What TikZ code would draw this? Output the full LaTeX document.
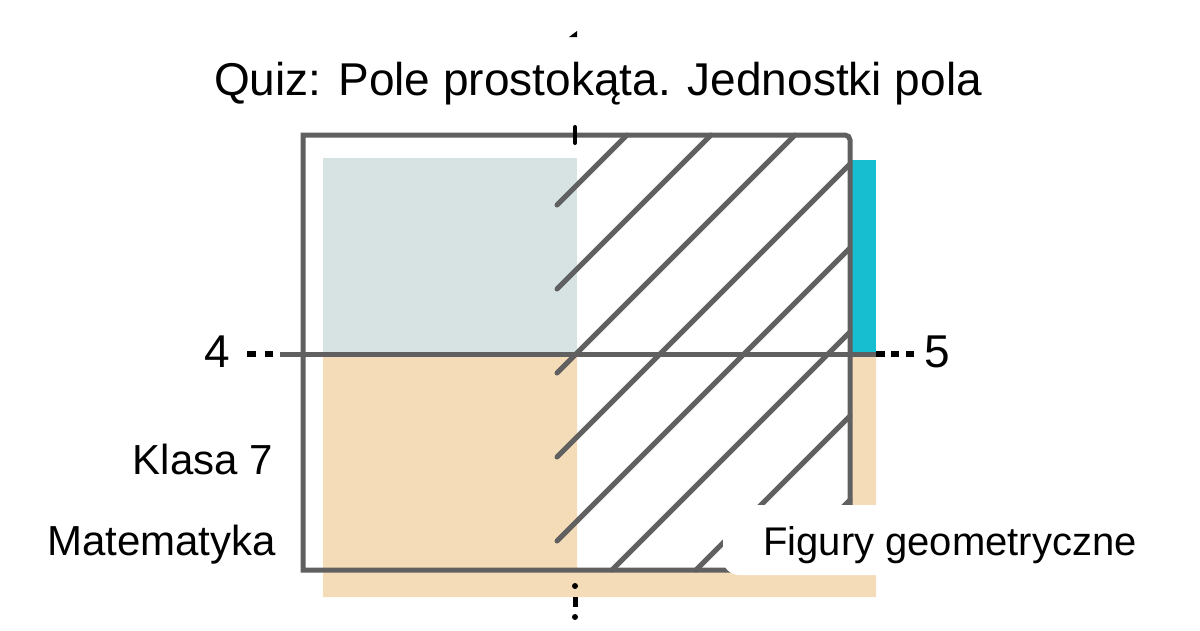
\documentclass[tikz,border=0pt]{standalone}
\usepackage{fontspec}
\setmainfont{Liberation Sans}
\definecolor{edgegray}{HTML}{606060}
\definecolor{paleblue}{HTML}{D7E3E3}
\definecolor{beige}{HTML}{F5DCB8}
\definecolor{cyanbar}{HTML}{17BECF}
\tikzset{
  frameline/.style={draw=edgegray, line width=5pt},
  hatchline/.style={draw=edgegray, line width=5pt, line cap=round},
  dotmark/.style={draw=black, line width=5.5pt},
  lbl/.style={font=\fontsize{42}{50}\selectfont, inner sep=0pt},
  titlelbl/.style={font=\fontsize{46}{54}\selectfont, inner sep=0pt},
  taglbl/.style={font=\fontsize{40}{48}\selectfont, inner sep=0pt},
  numlbl/.style={font=\fontsize{46}{54}\selectfont, inner sep=0pt},
  tagbox/.style={fill=white, rounded corners=16pt, minimum width=452pt, minimum height=70pt, inner sep=0pt},
}
\begin{document}
\begin{tikzpicture}[x=1pt,y=-1pt]
\useasboundingbox (0,0) rectangle (1200,630);
% fills
\fill[paleblue] (323,158) rectangle (577,354);
\fill[beige] (323,354) -- (577,354) -- (577,570) -- (850,570) -- (850,354) -- (876,354) -- (876,597) -- (323,597) -- cycle;
\fill[cyanbar] (851,160) rectangle (876,354);
% hatching
\foreach \c in {762,846,...,1350}{
  \pgfmathsetmacro\sx{max(557,\c-570)}
  \pgfmathsetmacro\ex{min(\c-135,850)}
  \draw[hatchline] (\sx,\c-\sx) -- (\ex,\c-\ex);
}
% middle horizontal line
\coordinate (hl) at (280,354);
\coordinate (hr) at (876,354);
\draw[frameline] (hl) -- (hr);
% frame
\draw[frameline] (303,570) -- (303,135) -- (845,135) to[out=0,in=90] (850,140) -- (850,570) -- cycle;
% vertical dotted axis marks
\fill[black] (569,37) -- (577,31) -- (577,37) -- cycle;
\draw[black, line width=4pt, line cap=round] (575,127) -- (575,143);
\fill[black] (575,586) circle (3pt);
\draw[black, line width=5pt] (575,597) -- (575,607);
\fill[black] (575,617) circle (3pt);
% horizontal dotted extensions
\draw[dotmark] (247,354) -- (256,354) (265,354) -- (273,354);
\draw[dotmark] (876,354) -- (885,354) (891,354) -- (899,354) (906,354) -- (914,354);
% labels
\node[numlbl] (four) at (217,352) {4};
\node[numlbl] (five) at (937,352) {5};
\node[titlelbl, anchor=base] (title) at (598,95) {Quiz: Pole prostokąta. Jednostki pola};
\node[lbl, anchor=base east] (klasa) at (273,474) {Klasa 7};
\node[lbl, anchor=base east] (mat) at (276,555) {Matematyka};
\node[tagbox] (tag) at (949,540) {};
\node[taglbl, anchor=base] (fig) at (950,555) {Figury geometryczne};
\end{tikzpicture}
\end{document}
